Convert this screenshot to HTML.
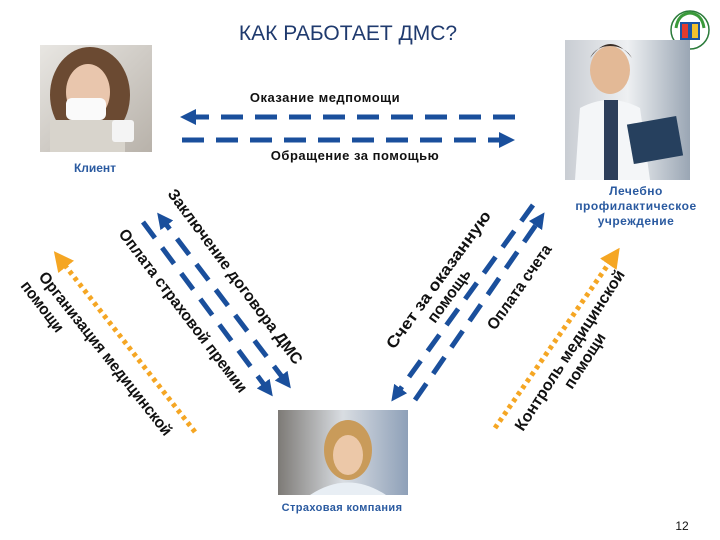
<!DOCTYPE html>
<html><head><meta charset="utf-8"><style>
html,body{margin:0;padding:0;background:#fff;}
svg{display:block;font-family:"Liberation Sans",sans-serif;}
</style></head><body>
<svg width="720" height="540" viewBox="0 0 720 540" xmlns="http://www.w3.org/2000/svg">
<defs>
<marker id="bh" viewBox="0 0 10 10" refX="5" refY="5" markerWidth="3.2" markerHeight="3.2" orient="auto-start-reverse"><path d="M0,0 L10,5 L0,10 z" fill="#1a4f9c"/></marker>
<marker id="oh" viewBox="0 0 10 10" refX="5" refY="5" markerWidth="4" markerHeight="4" orient="auto"><path d="M0,0 L10,5 L0,10 z" fill="#f5a623"/></marker>
<linearGradient id="g1" x1="0" y1="0" x2="1" y2="1"><stop offset="0" stop-color="#e8e6e2"/><stop offset="1" stop-color="#b8b2aa"/></linearGradient>
<linearGradient id="g2" x1="0" y1="0" x2="1" y2="0"><stop offset="0" stop-color="#c9cdd3"/><stop offset="0.5" stop-color="#eef0f2"/><stop offset="1" stop-color="#9aa6b4"/></linearGradient>
<linearGradient id="g3" x1="0" y1="0" x2="1" y2="0"><stop offset="0" stop-color="#7d7a76"/><stop offset="0.5" stop-color="#d9dde2"/><stop offset="1" stop-color="#8ea0b8"/></linearGradient>
</defs>

<text x="348" y="40" text-anchor="middle" font-size="21" fill="#1f3a6e">КАК РАБОТАЕТ ДМС?</text>

<g transform="translate(690,30)">
<circle r="19" fill="#fff" stroke="#2a7a3a" stroke-width="1.5"/>
<rect x="-10" y="-8" width="20" height="18" fill="#1a55a5"/>
<rect x="-8" y="-6" width="6" height="14" fill="#e23b2e"/>
<rect x="2" y="-6" width="6" height="14" fill="#f2c12e"/>
<path d="M-14,-2 Q-12,-16 0,-17 Q12,-16 14,-2" fill="none" stroke="#3a9a3a" stroke-width="3"/>
</g>

<rect x="40" y="45" width="112" height="107" fill="url(#g1)"/>
<ellipse cx="90" cy="95" rx="40" ry="48" fill="#6b4a32"/>
<ellipse cx="88" cy="92" rx="22" ry="28" fill="#e9c6ad"/>
<rect x="66" y="98" width="40" height="22" rx="6" fill="#fafafa"/>
<rect x="50" y="120" width="75" height="32" fill="#d8d4cc"/>
<rect x="112" y="120" width="22" height="22" rx="3" fill="#f4f4f4"/>
<text x="95" y="172" text-anchor="middle" font-size="12" font-weight="bold" fill="#2a5aa0">Клиент</text>

<rect x="565" y="40" width="125" height="140" fill="url(#g2)"/>
<ellipse cx="610" cy="70" rx="20" ry="24" fill="#e3b996"/>
<path d="M590,58 Q610,30 632,58 Q625,46 610,46 Q596,46 590,58z" fill="#3a2e26"/>
<path d="M575,180 L580,108 Q610,92 640,108 L650,180z" fill="#f4f6f8"/>
<rect x="604" y="100" width="14" height="80" fill="#2c3e5a"/>
<rect x="630" y="120" width="50" height="40" fill="#26405e" transform="rotate(-10 655 140)"/>
<text font-size="12" font-weight="bold" fill="#2a5aa0" text-anchor="middle" letter-spacing="0.5">
<tspan x="636" y="195">Лечебно</tspan><tspan x="636" y="210">профилактическое</tspan><tspan x="636" y="225">учреждение</tspan></text>

<rect x="278" y="410" width="130" height="85" fill="url(#g3)"/>
<ellipse cx="348" cy="450" rx="24" ry="30" fill="#c99b5a"/>
<ellipse cx="348" cy="455" rx="15" ry="20" fill="#ecc8a8"/>
<path d="M310,495 Q348,470 386,495z" fill="#e8eef4"/>
<text x="342" y="511" text-anchor="middle" font-size="11" font-weight="bold" fill="#2a5aa0" letter-spacing="0.4">Страховая компания</text>

<text x="325" y="102" text-anchor="middle" font-size="13" font-weight="bold" fill="#111" letter-spacing="0.5">Оказание медпомощи</text>
<line x1="515" y1="117" x2="188" y2="117" stroke="#1a4f9c" stroke-width="5" stroke-dasharray="22,12" marker-end="url(#bh)"/>
<line x1="182" y1="140" x2="507" y2="140" stroke="#1a4f9c" stroke-width="5" stroke-dasharray="22,12" marker-end="url(#bh)"/>
<text x="355" y="160" text-anchor="middle" font-size="13" font-weight="bold" fill="#111" letter-spacing="0.5">Обращение за помощью</text>

<line x1="286" y1="382" x2="162" y2="219" stroke="#1a4f9c" stroke-width="5" stroke-dasharray="20,12" marker-start="url(#bh)" marker-end="url(#bh)"/>
<line x1="143" y1="222" x2="268" y2="390" stroke="#1a4f9c" stroke-width="5" stroke-dasharray="20,12" marker-end="url(#bh)"/>
<line x1="195" y1="432" x2="60" y2="259" stroke="#f5a623" stroke-width="5" stroke-dasharray="4,4" marker-end="url(#oh)"/>

<g font-size="16" font-weight="bold" fill="#111">
<text transform="translate(167,194) rotate(53.3)" textLength="214" lengthAdjust="spacingAndGlyphs">Заключение договора ДМС</text>
<text transform="translate(118,234) rotate(52.7)" textLength="201" lengthAdjust="spacingAndGlyphs">Оплата страховой премии</text>
<text transform="translate(38,277) rotate(51.6)" textLength="204" lengthAdjust="spacingAndGlyphs">Организация медицинской</text>
<text transform="translate(20,286) rotate(52.5)" textLength="60" lengthAdjust="spacingAndGlyphs">помощи</text>
</g>

<line x1="533" y1="205" x2="396" y2="395" stroke="#1a4f9c" stroke-width="5" stroke-dasharray="20,12" marker-end="url(#bh)"/>
<line x1="415" y1="400" x2="540" y2="219" stroke="#1a4f9c" stroke-width="5" stroke-dasharray="20,12" marker-end="url(#bh)"/>
<line x1="495" y1="428" x2="614" y2="256" stroke="#f5a623" stroke-width="5" stroke-dasharray="4,4" marker-end="url(#oh)"/>

<g font-size="16" font-weight="bold" fill="#111">
<text transform="translate(394,350) rotate(-54)" textLength="166" lengthAdjust="spacingAndGlyphs">Счет  за оказанную</text>
<text transform="translate(435,324) rotate(-54)" textLength="62" lengthAdjust="spacingAndGlyphs">помощь</text>
<text transform="translate(495,331) rotate(-55)" textLength="100" lengthAdjust="spacingAndGlyphs">Оплата счета</text>
<text transform="translate(523,432) rotate(-57)" textLength="188" lengthAdjust="spacingAndGlyphs">Контроль медицинской</text>
<text transform="translate(572,390) rotate(-57)" textLength="63" lengthAdjust="spacingAndGlyphs">помощи</text>
</g>

<text x="682" y="530" text-anchor="middle" font-size="12" fill="#111">12</text>
</svg>
</body></html>
